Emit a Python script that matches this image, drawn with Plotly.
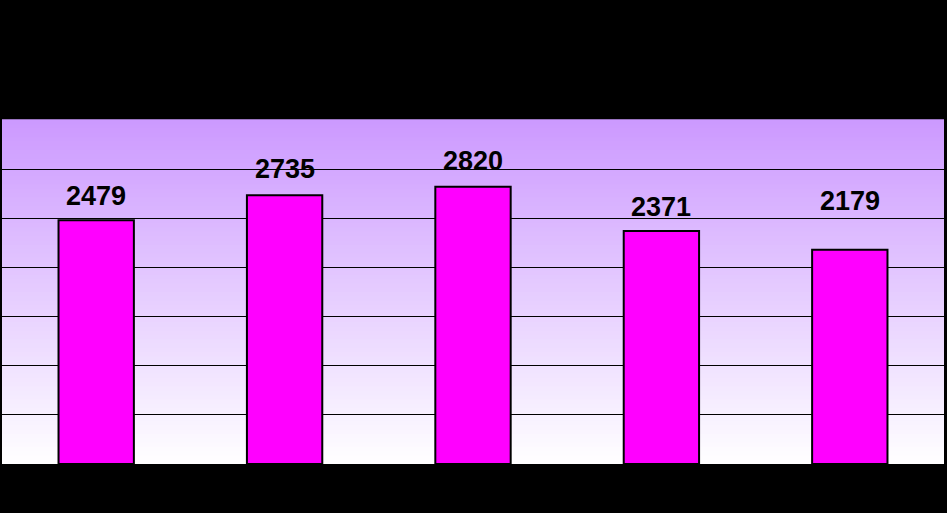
import plotly.graph_objects as go

categories = ["A", "B", "C", "D", "E"]
values = [2479, 2735, 2820, 2371, 2179]

# label placement (pixel offset above each bar top), style only
label_offsets = [7, 9, 9, 7, 32]

fig = go.Figure()
fig.add_trace(go.Bar(
    x=categories, y=values,
    marker=dict(color="#FF00FF", line=dict(color="black", width=2)),
    hoverinfo="skip",
))

# gradient background (purple top -> white bottom)
n = 80
top = (204, 153, 255)
bot = (255, 255, 255)
shapes = []
for i in range(n):
    t = (i + 0.5) / n  # 0 bottom .. 1 top
    c = tuple(int(round(bot[k] + (top[k] - bot[k]) * t)) for k in range(3))
    shapes.append(dict(type="rect", xref="paper", yref="paper",
                       x0=0, x1=1, y0=i / n, y1=(i + 1) / n + 0.002,
                       fillcolor="rgb(%d,%d,%d)" % c, line=dict(width=0),
                       layer="below"))

for c, v, off in zip(categories, values, label_offsets):
    fig.add_annotation(x=c, y=v, text=str(v), showarrow=False,
                       yanchor="bottom", yshift=off,
                       font=dict(family="Liberation Sans, Arial", size=27,
                                 color="black", weight="bold"))

fig.update_layout(
    width=947, height=513, autosize=False,
    margin=dict(l=2, r=3, t=120, b=49, pad=0),
    paper_bgcolor="black", plot_bgcolor="white",
    shapes=shapes, showlegend=False, bargap=0.6,
    font=dict(family="Liberation Sans, Arial", color="black"),
)
fig.update_yaxes(range=[0, 3500], dtick=500, showgrid=True, gridcolor="black",
                 gridwidth=1, showticklabels=False, zeroline=False, showline=False)
fig.update_xaxes(type="category", showticklabels=False, showgrid=False,
                 zeroline=False, showline=False)

fig.write_html("out.html", config={"displayModeBar": False},
               post_script="document.body.style.margin='0px';document.body.style.overflow='hidden';")
